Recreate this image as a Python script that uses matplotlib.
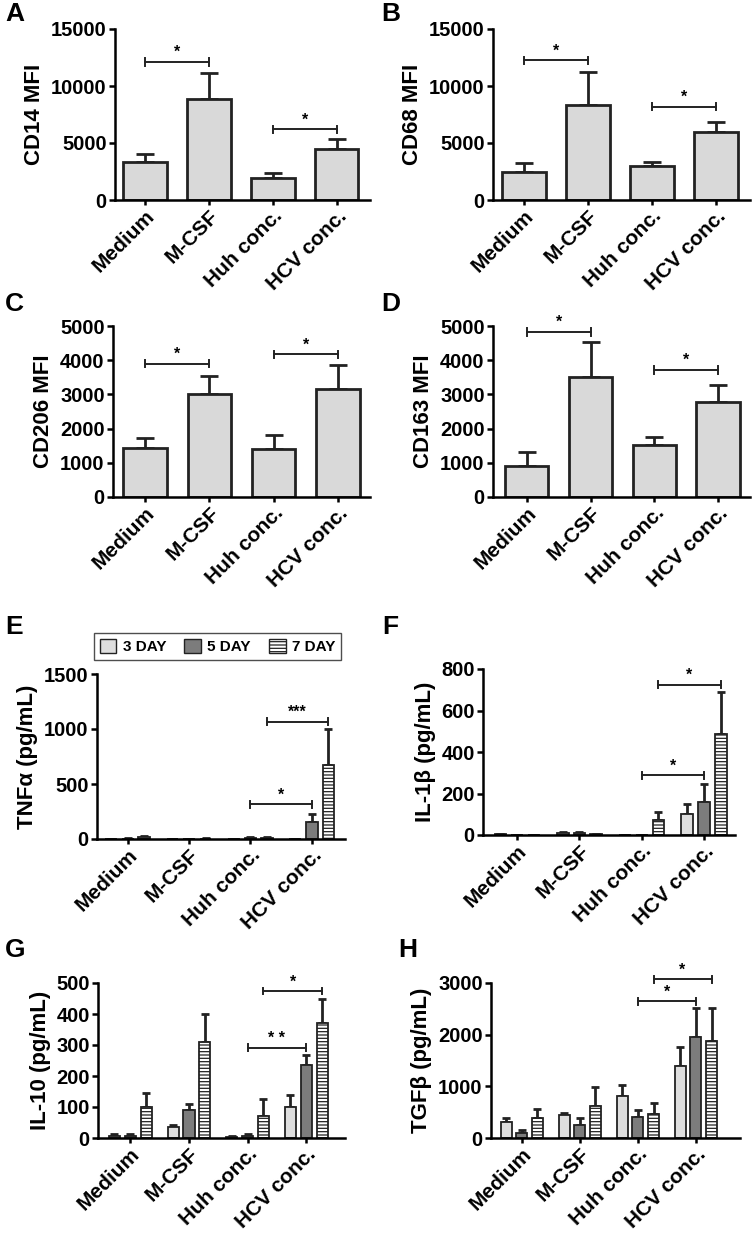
import numpy as np
import matplotlib
matplotlib.use('Agg')
import matplotlib.pyplot as plt
from matplotlib.patches import Patch

plt.rcParams['font.family'] = ['Liberation Sans', 'DejaVu Sans']
plt.rcParams['font.weight'] = 'bold'
plt.rcParams['axes.labelweight'] = 'bold'
plt.rcParams['axes.linewidth'] = 1.8
plt.rcParams['hatch.linewidth'] = 0.9

cats = ['Medium', 'M-CSF', 'Huh conc.', 'HCV conc.']

# panels A-D (single bars)
cd14 = [3300, 8850, 1950, 4450]
cd14_err = [700, 2300, 400, 900]
cd68 = [2450, 8350, 2950, 5950]
cd68_err = [800, 2900, 350, 900]
cd206 = [1420, 3020, 1390, 3170]
cd206_err = [300, 520, 420, 680]
cd163 = [910, 3500, 1530, 2790]
cd163_err = [420, 1020, 210, 480]

# panels E-H (3, 5, 7 day)
days = ['3 DAY', '5 DAY', '7 DAY']
tnf = [[2, 0, 0, 2], [3, 0, 5, 155], [18, 3, 10, 675]]
tnf_err = [[0, 0, 0, 0], [2, 0, 12, 75], [8, 2, 10, 325]]
il1b = [[3, 10, 0, 101], [0, 10, 0, 158], [0, 3, 72, 486]]
il1b_err = [[1, 4, 0, 49], [0, 5, 0, 88], [0, 1, 41, 201]]
il10 = [[8, 35, 3, 99], [8, 90, 8, 234], [100, 311, 70, 372]]
il10_err = [[4, 7, 2, 40], [6, 21, 5, 34], [46, 88, 55, 78]]
tgfb = [[310, 452, 815, 1395], [100, 260, 408, 1949], [380, 611, 471, 1885]]
tgfb_err = [[70, 38, 210, 369], [50, 120, 127, 561], [187, 383, 204, 625]]

W, H = 756, 1233
fig = plt.figure(figsize=(W / 100, H / 100), dpi=100)


def box(l, r, t, b):
    return [l / W, 1 - b / H, (r - l) / W, (b - t) / H]


def sig(ax, x1, x2, y, txt, d):
    ax.plot([x1, x2], [y, y], color='#222222', lw=1.4, clip_on=False)
    for x in (x1, x2):
        ax.plot([x, x], [y - d, y + d], color='#222222', lw=1.4, clip_on=False)
    ax.text((x1 + x2) / 2, y + d * 0.5, txt, ha='center', va='bottom', fontsize=11.5, clip_on=False)


def style(ax, ymax, step, ylabel, xlim):
    ax.spines['top'].set_visible(False)
    ax.spines['right'].set_visible(False)
    ax.set_ylim(0, ymax)
    ax.set_yticks(np.arange(0, ymax + 1, step))
    ax.set_xlim(*xlim)
    ax.set_xticks(range(4))
    ax.set_xticklabels(cats, rotation=45, ha='right', rotation_mode='anchor', fontsize=15)
    ax.tick_params(axis='y', labelsize=14.5, width=1.8, length=4, pad=2)
    ax.tick_params(axis='x', width=1.8, length=3.5, pad=1)
    ax.set_ylabel(ylabel, fontsize=16, labelpad=4)


def single(pos, vals, errs, ymax, step, ylabel, sigs, xlim):
    ax = fig.add_axes(box(*pos))
    x = np.arange(4)
    ax.bar(x, vals, width=0.68, color='#d9d9d9', edgecolor='#222222', linewidth=2, zorder=2)
    ax.errorbar(x, vals, yerr=[[0] * 4, errs], fmt='none', ecolor='#222222', elinewidth=2,
                capsize=6.5, capthick=2, zorder=1)
    style(ax, ymax, step, ylabel, xlim)
    for a, b, y in sigs:
        sig(ax, a, b, y, '*', ymax * 0.022)
    return ax


single((115, 370, 29, 200), cd14, cd14_err, 15000, 5000, 'CD14 MFI',
       [(0, 1, 12100), (2, 3, 6200)], (-0.47, 3.52))
single((493, 750, 29, 200), cd68, cd68_err, 15000, 5000, 'CD68 MFI',
       [(0, 1, 12250), (2, 3, 8200)], (-0.48, 3.53))
single((113, 370, 326, 497), cd206, cd206_err, 5000, 1000, 'CD206 MFI',
       [(0, 1, 3900), (2, 3, 4170)], (-0.5, 3.5))
single((493, 750, 326, 497), cd163, cd163_err, 5000, 1000, 'CD163 MFI',
       [(0, 1, 4830), (2, 3, 3710)], (-0.53, 3.5))

styles = [dict(color='#dedede', hatch=None), dict(color='#7c7c7c', hatch=None),
          dict(color='white', hatch='-----')]
off = 0.27
bw = 0.19


def grouped(pos, vals, errs, ymax, step, ylabel, sigs, xlim):
    ax = fig.add_axes(box(*pos))
    x = np.arange(4)
    for i in range(3):
        xi = x + (i - 1) * off
        ax.bar(xi, vals[i], width=bw, color=styles[i]['color'], hatch=styles[i]['hatch'],
               edgecolor='#222222', linewidth=1.3, zorder=2)
        ax.errorbar(xi, vals[i], yerr=[[0] * 4, errs[i]], fmt='none', ecolor='#222222',
                    elinewidth=2, capsize=3, capthick=2, zorder=1)
    style(ax, ymax, step, ylabel, xlim)
    for day, y, txt in sigs:
        sig(ax, 2 + (day - 1) * off, 3 + (day - 1) * off, y, txt, ymax * 0.022)
    return ax


grouped((97, 345, 674, 839), tnf, tnf_err, 1500, 500, 'TNFα (pg/mL)',
        [(1, 315, '*'), (2, 1065, '***')], (-0.5, 3.54))
grouped((483, 735, 669, 835), il1b, il1b_err, 800, 200, 'IL-1β (pg/mL)',
        [(1, 287, '*'), (2, 725, '*')], (-0.55, 3.5))
grouped((98, 345, 983, 1138), il10, il10_err, 500, 100, 'IL-10 (pg/mL)',
        [(1, 291, '* *'), (2, 474, '*')], (-0.55, 3.66))
grouped((491, 740, 983, 1138), tgfb, tgfb_err, 3000, 1000, 'TGFβ (pg/mL)',
        [(1, 2647, '*'), (2, 3075, '*')], (-0.53, 3.76))

handles = [Patch(facecolor=s['color'], hatch=s['hatch'], edgecolor='#222222', linewidth=1)
           for s in styles]
fig.legend(handles, days, loc='center', bbox_to_anchor=((96 + 339) / 2 / W, 1 - 646.5 / H),
           ncol=3, frameon=True, fancybox=False, edgecolor='#222222',
           handlelength=1.1, handleheight=1.1, columnspacing=1.2, handletextpad=0.4,
           borderpad=0.35, prop={'weight': 'bold', 'size': 11})

for letter, x, y in [('A', 5, 2), ('B', 381, 2), ('C', 5, 292), ('D', 381, 292),
                     ('E', 5, 615), ('F', 382, 615), ('G', 5, 938), ('H', 398, 938)]:
    fig.text(x / W, 1 - y / H, letter, fontsize=19, fontweight='bold', va='top', ha='left')

fig.savefig('out.png', dpi=100)
